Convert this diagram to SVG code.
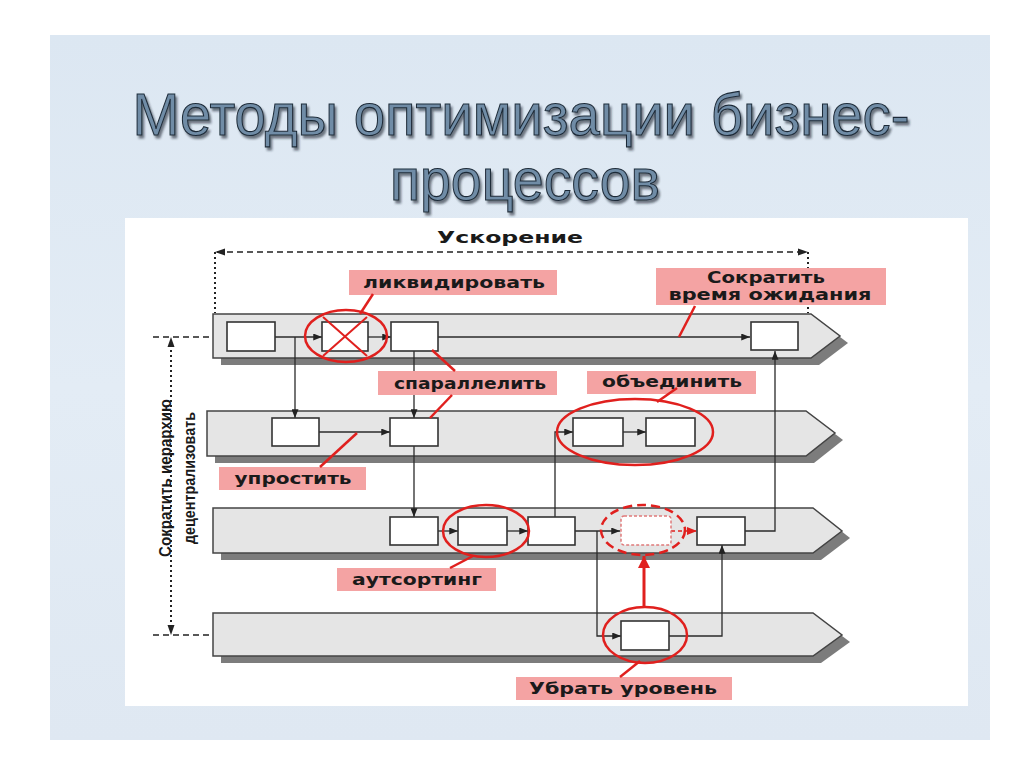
<svg xmlns="http://www.w3.org/2000/svg" width="1024" height="767" viewBox="0 0 1024 767">
<defs>
<linearGradient id="slideBg" x1="0" y1="0" x2="0" y2="1">
<stop offset="0" stop-color="#dce7f2"/>
<stop offset="0.5" stop-color="#e3ecf5"/>
<stop offset="1" stop-color="#dfe8f2"/>
</linearGradient>
<filter id="tsh" x="-5%" y="-20%" width="110%" height="150%">
<feDropShadow dx="2" dy="3" stdDeviation="1" flood-color="#1e2630" flood-opacity="0.6"/>
</filter>
<marker id="ah" viewBox="0 0 10 8" refX="10" refY="4" markerWidth="9" markerHeight="7" markerUnits="userSpaceOnUse" orient="auto">
<path d="M0,0 L10,4 L0,8 Z" fill="#222"/>
</marker>
<marker id="ahr" viewBox="0 0 10 8" refX="10" refY="4" markerWidth="10" markerHeight="8" markerUnits="userSpaceOnUse" orient="auto">
<path d="M0,0 L10,4 L0,8 Z" fill="#e0201e"/>
</marker>
<marker id="ahrBig" viewBox="0 0 10 10" refX="10" refY="5" markerWidth="12" markerHeight="12" markerUnits="userSpaceOnUse" orient="auto">
<path d="M0,0 L10,5 L0,10 Z" fill="#e0201e"/>
</marker>
<style>
.lane{fill:#e5e5e5;stroke:#444;stroke-width:1.5}
.shadow{fill:#7c7c7c}
.box{fill:#fff;stroke:#333;stroke-width:1.6}
.conn{fill:none;stroke:#2a2a2a;stroke-width:1.3}
.lbl{fill:#f4a3a3}
.lt{font-family:"DejaVu Sans","Liberation Sans",sans-serif;font-weight:bold;font-size:15px;fill:#1a1a1a}
.red{fill:none;stroke:#e0201e;stroke-width:2.5}
.lead{stroke:#e0201e;stroke-width:2.5}
.title{font-family:"Liberation Sans Narrow","Liberation Sans",sans-serif;font-size:60px;fill:#6f8ca6;stroke:#1e2b38;stroke-width:1.1;filter:url(#tsh)}
.vt{font-family:"Liberation Sans Narrow","Liberation Sans",sans-serif;font-weight:bold;font-size:17px;fill:#1a1a1a}
</style>
</defs>

<rect x="0" y="0" width="1024" height="767" fill="#ffffff"/>
<rect x="50" y="35" width="940" height="705" fill="url(#slideBg)"/>

<g id="title">
<text class="title" x="521" y="135" text-anchor="middle" textLength="777" lengthAdjust="spacingAndGlyphs">Методы оптимизации бизнес-</text>
<text class="title" x="525" y="200" text-anchor="middle" textLength="270" lengthAdjust="spacingAndGlyphs">процессов</text>
</g>

<rect x="125" y="218" width="843" height="488" fill="#ffffff"/>

<g id="lanes">
<g id="lane1">
<polygon class="shadow" points="221,321 819,321 848,343 819,365 221,365"/>
<polygon class="lane" points="213,314 811,314 840,336 811,358 213,358"/>
</g>
<g id="lane2">
<polygon class="shadow" points="215,418 814,418 843,440 814,463 215,463"/>
<polygon class="lane" points="207,411 806,411 835,433 806,456 207,456"/>
</g>
<g id="lane3">
<polygon class="shadow" points="221,515 821,515 850,538 821,560 221,560"/>
<polygon class="lane" points="213,508 813,508 842,531 813,553 213,553"/>
</g>
<g id="lane4">
<polygon class="shadow" points="221,620 821,620 850,642 821,663 221,663"/>
<polygon class="lane" points="213,613 813,613 842,635 813,656 213,656"/>
</g>
</g>

<g id="guides">
<text x="510" y="243" text-anchor="middle" class="lt" font-size="17" textLength="146" lengthAdjust="spacingAndGlyphs">Ускорение</text>
<line x1="217" y1="252" x2="806" y2="252" stroke="#222" stroke-width="1.4" stroke-dasharray="6,4"/>
<path d="M215,252 L225,248.5 L225,255.5 Z" fill="#222"/>
<path d="M808,252 L798,248.5 L798,255.5 Z" fill="#222"/>
<line x1="215" y1="252" x2="215" y2="313" stroke="#222" stroke-width="2" stroke-dasharray="2,3"/>
<line x1="808" y1="252" x2="808" y2="313" stroke="#222" stroke-width="2" stroke-dasharray="2,3"/>
<line x1="153" y1="337" x2="210" y2="337" stroke="#222" stroke-width="1.4" stroke-dasharray="6,4"/>
<line x1="153" y1="635" x2="210" y2="635" stroke="#222" stroke-width="1.4" stroke-dasharray="6,4"/>
<line x1="171" y1="345" x2="171" y2="627" stroke="#222" stroke-width="2" stroke-dasharray="2,3"/>
<path d="M171,337 L167.5,347 L174.5,347 Z" fill="#222"/>
<path d="M171,635 L167.5,625 L174.5,625 Z" fill="#222"/>
<text class="vt" transform="translate(171,478) rotate(-90)" text-anchor="middle" textLength="158" lengthAdjust="spacingAndGlyphs">Сократить иерархию</text>
<text class="vt" transform="translate(195,478) rotate(-90)" text-anchor="middle" textLength="132" lengthAdjust="spacingAndGlyphs">децентрализовать</text>
</g>

<g id="connectors">
<line class="conn" x1="275" y1="337" x2="322" y2="337" marker-end="url(#ah)"/>
<line class="conn" x1="368" y1="337" x2="391" y2="337" marker-end="url(#ah)"/>
<line class="conn" x1="438" y1="337" x2="750" y2="337" marker-end="url(#ah)"/>
<polyline class="conn" points="295,337 295,418" marker-end="url(#ah)"/>
<line class="conn" x1="414" y1="351" x2="414" y2="418" marker-end="url(#ah)"/>
<line class="conn" x1="319" y1="432" x2="390" y2="432" marker-end="url(#ah)"/>
<line class="conn" x1="414" y1="446" x2="414" y2="517" marker-end="url(#ah)"/>
<polyline class="conn" points="555,517 555,432 573,432" marker-end="url(#ah)"/>
<line class="conn" x1="623" y1="432" x2="646" y2="432" marker-end="url(#ah)"/>
<line class="conn" x1="438" y1="531" x2="458" y2="531" marker-end="url(#ah)"/>
<line class="conn" x1="507" y1="531" x2="528" y2="531" marker-end="url(#ah)"/>
<line class="conn" x1="575" y1="531" x2="620" y2="531" marker-end="url(#ah)"/>
<polyline class="conn" points="597,531 597,636 621,636" marker-end="url(#ah)"/>
<line x1="671" y1="531" x2="697" y2="531" stroke="#e0201e" stroke-width="1.5" stroke-dasharray="4,3" marker-end="url(#ahr)"/>
<polyline class="conn" points="745,531 775,531 775,351" marker-end="url(#ah)"/>
<polyline class="conn" points="669,636 722,636 722,545" marker-end="url(#ah)"/>
<line x1="644" y1="607" x2="644" y2="556" stroke="#e0201e" stroke-width="3" marker-end="url(#ahrBig)"/>
</g>

<g id="nodes">
<g id="n1"><rect class="box" x="227" y="322" width="48" height="29"/></g>
<g id="n2"><rect class="box" x="322" y="322" width="46" height="29"/>
<line x1="323" y1="317" x2="367" y2="356" stroke="#e0201e" stroke-width="2"/>
<line x1="367" y1="317" x2="323" y2="356" stroke="#e0201e" stroke-width="2"/></g>
<g id="n3"><rect class="box" x="391" y="322" width="47" height="29"/></g>
<g id="n4"><rect class="box" x="751" y="322" width="47" height="28"/></g>
<g id="n5"><rect class="box" x="272" y="418" width="47" height="28"/></g>
<g id="n6"><rect class="box" x="390" y="418" width="48" height="28"/></g>
<g id="n7"><rect class="box" x="573" y="418" width="50" height="28"/></g>
<g id="n8"><rect class="box" x="646" y="418" width="49" height="28"/></g>
<g id="n9"><rect class="box" x="390" y="517" width="48" height="28"/></g>
<g id="n10"><rect class="box" x="458" y="517" width="49" height="28"/></g>
<g id="n11"><rect class="box" x="528" y="517" width="47" height="28"/></g>
<g id="n12"><rect x="621" y="516" width="50" height="29" rx="3" fill="#fff" stroke="#e07a7a" stroke-width="1.5" stroke-dasharray="3,2"/></g>
<g id="n13"><rect class="box" x="697" y="517" width="48" height="28"/></g>
<g id="n14"><rect class="box" x="621" y="621" width="48" height="29"/></g>
</g>

<g id="highlights">
<ellipse class="red" cx="346" cy="336" rx="41" ry="26"/>
<ellipse class="red" cx="635" cy="432" rx="78" ry="33"/>
<ellipse class="red" cx="486" cy="531" rx="43" ry="26"/>
<ellipse class="red" cx="643" cy="530" rx="42" ry="25" stroke-dasharray="9,5"/>
<ellipse class="red" cx="645" cy="635" rx="42" ry="28"/>
</g>

<g id="labels">
<g id="l-likv">
<rect class="lbl" x="349" y="270" width="208" height="25"/>
<text class="lt" x="454" y="288" text-anchor="middle" textLength="182" lengthAdjust="spacingAndGlyphs">ликвидировать</text>
<line class="lead" x1="373" y1="294" x2="360" y2="314"/>
</g>
<g id="l-wait">
<rect class="lbl" x="656" y="268" width="230" height="37"/>
<text class="lt" x="766" y="283" text-anchor="middle" font-size="14" textLength="118" lengthAdjust="spacingAndGlyphs">Сократить</text>
<text class="lt" x="770" y="300" text-anchor="middle" font-size="14" textLength="203" lengthAdjust="spacingAndGlyphs">время ожидания</text>
<line class="lead" x1="695" y1="306" x2="679" y2="337"/>
</g>
<g id="l-par">
<rect class="lbl" x="378" y="371" width="179" height="24"/>
<text class="lt" x="470" y="389" text-anchor="middle" textLength="152" lengthAdjust="spacingAndGlyphs">спараллелить</text>
<line class="lead" x1="432" y1="350" x2="455" y2="371"/>
<line class="lead" x1="452" y1="395" x2="430" y2="418"/>
</g>
<g id="l-obj">
<rect class="lbl" x="587" y="371" width="169" height="23"/>
<text class="lt" x="672" y="387" text-anchor="middle" textLength="140" lengthAdjust="spacingAndGlyphs">объединить</text>
<line class="lead" x1="677" y1="388" x2="657" y2="402"/>
</g>
<g id="l-upr">
<rect class="lbl" x="219" y="467" width="147" height="23"/>
<text class="lt" x="293" y="484" text-anchor="middle" textLength="117" lengthAdjust="spacingAndGlyphs">упростить</text>
<line class="lead" x1="320" y1="467" x2="357" y2="433"/>
</g>
<g id="l-aut">
<rect class="lbl" x="337" y="568" width="159" height="23"/>
<text class="lt" x="417" y="585" text-anchor="middle" textLength="130" lengthAdjust="spacingAndGlyphs">аутсортинг</text>
<line class="lead" x1="450" y1="568" x2="473" y2="556"/>
</g>
<g id="l-ubr">
<rect class="lbl" x="516" y="677" width="216" height="23"/>
<text class="lt" x="623" y="694" text-anchor="middle" textLength="188" lengthAdjust="spacingAndGlyphs">Убрать уровень</text>
<line class="lead" x1="620" y1="677" x2="640" y2="661"/>
</g>
</g>
</svg>
